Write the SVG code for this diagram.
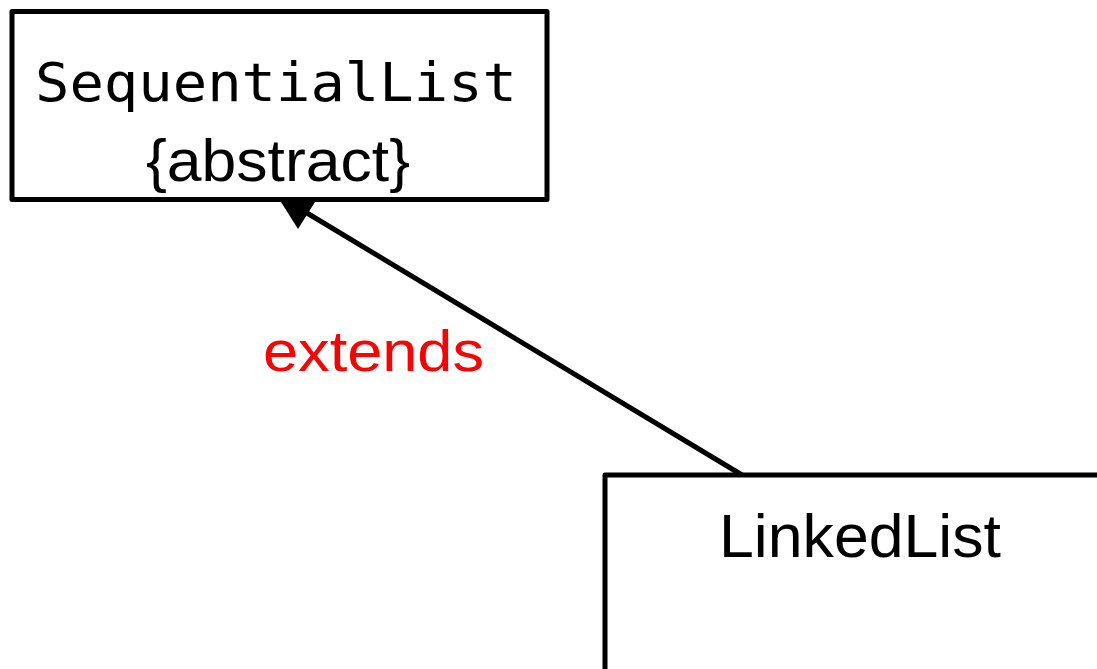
<svg xmlns="http://www.w3.org/2000/svg" width="1097" height="669" viewBox="0 0 1097 669">
  <style>
    .box { fill: #ffffff; stroke: #000000; stroke-width: 5; stroke-linejoin: round; }
    .sans { font-family: "Liberation Sans", Arial, sans-serif; fill: #000000; }
    .mono { font-family: "DejaVu Sans Mono", "Liberation Mono", monospace; fill: #000000; }
    .edge { stroke: #000000; stroke-width: 5; fill: none; }
    .label { font-family: "Liberation Sans", Arial, sans-serif; fill: #ff0000; }
  </style>
  <rect width="1097" height="669" fill="#ffffff"/>
  <g id="connectors">
    <line class="edge" x1="742" y1="475" x2="302" y2="210"/>
    <polygon points="281,202 315,202 298,229" fill="#000000"/>
    <text class="label" x="263" y="371" font-size="58" textLength="221" lengthAdjust="spacingAndGlyphs">extends</text>
  </g>
  <g id="SequentialList">
    <rect class="box" x="12" y="11.5" width="535" height="188"/>
    <text class="mono" x="35" y="101" font-size="54" textLength="482" lengthAdjust="spacingAndGlyphs">SequentialList</text>
    <text class="sans" x="146" y="181" font-size="59" textLength="264" lengthAdjust="spacingAndGlyphs">{abstract}</text>
  </g>
  <g id="LinkedList">
    <rect class="box" x="605" y="475" width="520" height="240"/>
    <text class="sans" x="719" y="557" font-size="62" textLength="282" lengthAdjust="spacingAndGlyphs">LinkedList</text>
  </g>
</svg>
